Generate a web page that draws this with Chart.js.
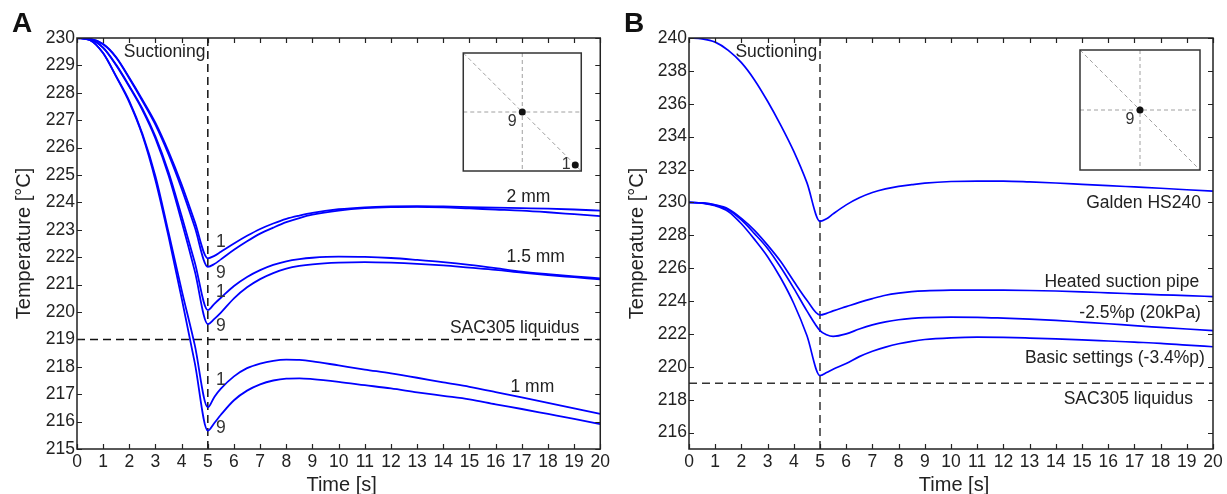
<!DOCTYPE html>
<html>
<head>
<meta charset="utf-8">
<script src="https://cdn.jsdelivr.net/npm/chart.js@4.4.1/dist/chart.umd.min.js"></script>
<style>
  body { margin: 0; background: #fff; }
  #panelA { position: absolute; left: 0; top: 0; }
  #panelB { position: absolute; left: 613px; top: 0; }
</style>
</head>
<body>
<canvas id="panelA" width="613" height="494"></canvas>
<canvas id="panelB" width="614" height="494"></canvas>
<script>
// Time axis shared by all curves [s]
const time = [0, 0.5, 1, 1.5, 2, 2.5, 3, 3.5, 4, 4.5, 5, 5.25, 5.5, 6, 6.5, 7, 7.5, 8, 8.5, 9,
              10, 11, 12, 13, 14, 15, 16, 17, 18, 19, 20];

// Panel A - pad thickness, measuring points 1 (corner) and 9 (centre) [°C]
const a2mm1 = [230, 229.97, 229.78, 229.3, 228.55, 227.75, 226.9, 225.85, 224.65, 223.3, 221.96,
               222.05, 222.2, 222.5, 222.78, 223.03, 223.23, 223.4, 223.52, 223.62,
               223.75, 223.82, 223.85, 223.86, 223.85, 223.83, 223.81, 223.79, 223.77, 223.74, 223.7];
const a2mm9 = [230, 229.97, 229.77, 229.28, 228.52, 227.7, 226.83, 225.75, 224.5, 223.1, 221.65,
               221.75, 221.92, 222.27, 222.58, 222.86, 223.08, 223.28, 223.43, 223.55,
               223.7, 223.79, 223.83, 223.84, 223.82, 223.78, 223.74, 223.7, 223.64, 223.57, 223.5];
const a15mm1 = [230, 229.95, 229.65, 229.02, 228.25, 227.42, 226.4, 225.1, 223.5, 221.82, 220.07,
                220.3, 220.52, 220.95, 221.28, 221.53, 221.72, 221.85, 221.93, 221.98,
                222.02, 222.01, 221.97, 221.9, 221.82, 221.72, 221.6, 221.47, 221.38, 221.3, 221.23];
const a15mm9 = [230, 229.95, 229.64, 229.0, 228.22, 227.37, 226.33, 224.98, 223.3, 221.5, 219.56,
                219.75, 219.98, 220.5, 220.9, 221.2, 221.42, 221.58, 221.68, 221.74,
                221.8, 221.82, 221.8, 221.76, 221.7, 221.62, 221.54, 221.44, 221.35, 221.27, 221.19];
const a1mm1 = [230, 229.92, 229.45, 228.6, 227.7, 226.5, 224.95, 222.9, 220.8, 218.8, 216.52,
               216.9, 217.2, 217.65, 217.95, 218.12, 218.22, 218.26, 218.25, 218.2,
               218.05, 217.9, 217.76, 217.6, 217.43, 217.27, 217.08, 216.88, 216.68, 216.48, 216.28];
const a1mm9 = [230, 229.92, 229.44, 228.58, 227.65, 226.45, 224.8, 222.75, 220.5, 218.15, 215.67,
               215.95, 216.25, 216.78, 217.13, 217.36, 217.5, 217.57, 217.58, 217.55,
               217.45, 217.33, 217.21, 217.07, 216.94, 216.81, 216.63, 216.46, 216.28, 216.1, 215.91];

// Panel B - process variants, centre point 9 [°C]
const bGalden = [240, 239.95, 239.75, 239.25, 238.5, 237.45, 236.15, 234.7, 233.1, 231.2, 228.85,
                 229.0, 229.3, 229.85, 230.28, 230.6, 230.82, 230.98, 231.08, 231.17,
                 231.27, 231.3, 231.3, 231.25, 231.18, 231.1, 231.02, 230.94, 230.86, 230.77, 230.68];
const bHeated = [230, 229.97, 229.85, 229.6, 229.03, 228.3, 227.4, 226.4, 225.2, 224.05, 223.15,
                 223.25, 223.4, 223.66, 223.92, 224.15, 224.35, 224.48, 224.57, 224.62,
                 224.66, 224.67, 224.66, 224.64, 224.61, 224.56, 224.5, 224.44, 224.38, 224.33, 224.27];
const bReduced = [230, 229.97, 229.83, 229.55, 228.93, 228.1, 227.2, 226.05, 224.77, 223.4, 222.2,
                  221.95, 221.85, 222.0, 222.3, 222.55, 222.73, 222.86, 222.94, 222.99,
                  223.02, 223.01, 222.96, 222.9, 222.82, 222.72, 222.62, 222.5, 222.4, 222.3, 222.2];
const bBasic = [230, 229.96, 229.8, 229.45, 228.7, 227.75, 226.7, 225.4, 223.85, 221.9, 219.47,
                219.65, 219.85, 220.2, 220.62, 220.95, 221.2, 221.4, 221.55, 221.66,
                221.76, 221.8, 221.79, 221.75, 221.7, 221.64, 221.57, 221.5, 221.43, 221.32, 221.22];

// Reference lines and axis ranges
const suctionEnd = 5;      // s
const liquidus = 219;      // °C, SAC305
const timeRange = [0, 20];
const rangeA = [215, 230];
const rangeB = [215, 240];

const FONT = "'Liberation Sans', Arial, Helvetica, sans-serif";
const INK = '#222';
const BLUE = '#0000ff';

function xy(values) {
  return time.map((t, i) => ({ x: t, y: values[i] }));
}

function curve(values, width) {
  return {
    data: xy(values), borderColor: BLUE, borderWidth: width,
    pointRadius: 0, fill: false, cubicInterpolationMode: 'monotone'
  };
}

function dashed(points, color) {
  return {
    data: points, borderColor: color, borderWidth: 1.5, borderDash: [8, 5],
    pointRadius: 0, fill: false, tension: 0
  };
}

// frame, inward ticks, texts and the position inset
const extras = {
  id: 'extras',
  afterDraw(chart, args, o) {
    const { ctx, chartArea: a, scales: { x, y } } = chart;
    ctx.save();

    // inset sketch of the measuring points
    const s = o.inset;
    const bx = a.right - s.dx - s.size, by = a.top + s.dy, bw = s.size, bh = s.size;
    ctx.fillStyle = '#fff';
    ctx.fillRect(bx, by, bw, bh);
    ctx.setLineDash([4, 3]);
    ctx.strokeStyle = '#a0a0a0';
    ctx.lineWidth = 1;
    ctx.beginPath();
    ctx.moveTo(bx, by); ctx.lineTo(bx + bw, by + bh);
    ctx.moveTo(bx + bw / 2, by); ctx.lineTo(bx + bw / 2, by + bh);
    ctx.moveTo(bx, by + bh / 2); ctx.lineTo(bx + bw, by + bh / 2);
    ctx.stroke();
    ctx.setLineDash([]);
    ctx.strokeStyle = '#333';
    ctx.lineWidth = 1.5;
    ctx.strokeRect(bx, by, bw, bh);
    ctx.fillStyle = '#111';
    ctx.beginPath();
    ctx.arc(bx + bw / 2, by + bh / 2, 3.5, 0, Math.PI * 2);
    ctx.fill();
    ctx.font = '16px ' + FONT;
    ctx.textAlign = 'center';
    ctx.textBaseline = 'middle';
    ctx.fillStyle = '#333';
    ctx.fillText('9', bx + bw / 2 - 10, by + bh / 2 + 10);
    if (s.corner) {
      ctx.fillStyle = '#111';
      ctx.beginPath();
      ctx.arc(bx + bw - 6, by + bh - 6, 3.5, 0, Math.PI * 2);
      ctx.fill();
      ctx.fillStyle = '#333';
      ctx.fillText('1', bx + bw - 15, by + bh - 6);
    }

    // inward tick marks on all four sides
    ctx.strokeStyle = INK;
    ctx.lineWidth = 1.2;
    ctx.beginPath();
    x.ticks.forEach(t => {
      const px = Math.round(x.getPixelForValue(t.value)) + 0.5;
      ctx.moveTo(px, a.bottom); ctx.lineTo(px, a.bottom - 5);
      ctx.moveTo(px, a.top); ctx.lineTo(px, a.top + 5);
    });
    y.ticks.forEach(t => {
      const py = Math.round(y.getPixelForValue(t.value)) + 0.5;
      ctx.moveTo(a.left, py); ctx.lineTo(a.left + 5, py);
      ctx.moveTo(a.right, py); ctx.lineTo(a.right - 5, py);
    });
    ctx.stroke();
    ctx.lineWidth = 1.5;
    ctx.strokeRect(a.left, a.top, a.width, a.height);

    // in-plot annotations
    ctx.fillStyle = INK;
    ctx.textBaseline = 'middle';
    o.notes.forEach(n => {
      ctx.font = (n.size || 17.5) + 'px ' + FONT;
      ctx.fillStyle = n.color || INK;
      ctx.textAlign = n.align;
      ctx.fillText(n.text, x.getPixelForValue(n.x), y.getPixelForValue(n.y));
    });

    // panel letter
    ctx.fillStyle = '#111';
    ctx.font = 'bold 28px ' + FONT;
    ctx.textAlign = 'left';
    ctx.textBaseline = 'alphabetic';
    ctx.fillText(o.letter, o.letterX, 32);

    // axis titles
    ctx.fillStyle = INK;
    ctx.font = '20px ' + FONT;
    ctx.textAlign = 'center';
    ctx.textBaseline = 'middle';
    ctx.fillText('Time [s]', (a.left + a.right) / 2 + 3, 485);
    ctx.translate(o.titleX, (a.top + a.bottom) / 2);
    ctx.rotate(-Math.PI / 2);
    ctx.fillText('Temperature [°C]', 0, 0);

    ctx.restore();
  }
};

function scales(yRange, yStep, yWidth) {
  const tickFont = { family: FONT, size: 17.5 };
  return {
    x: {
      type: 'linear', min: timeRange[0], max: timeRange[1],
      grid: { display: false, drawTicks: false }, border: { display: false },
      ticks: { stepSize: 1, autoSkip: false, maxRotation: 0, padding: 3, color: INK, font: tickFont },
      afterFit(s) { s.height = 45; }
    },
    y: {
      min: yRange[0], max: yRange[1],
      grid: { display: false, drawTicks: false }, border: { display: false },
      ticks: { stepSize: yStep, includeBounds: false, padding: 2, color: INK, font: tickFont },
      afterFit(s) { s.width = yWidth; }
    }
  };
}

new Chart(document.getElementById('panelA'), {
  type: 'line',
  data: {
    datasets: [
      curve(a2mm1, 1.8), curve(a2mm9, 1.8),
      curve(a15mm1, 1.8), curve(a15mm9, 1.8),
      curve(a1mm1, 1.8), curve(a1mm9, 1.8),
      dashed([{ x: suctionEnd, y: rangeA[0] }, { x: suctionEnd, y: rangeA[1] }], '#111'),
      dashed([{ x: timeRange[0], y: liquidus }, { x: timeRange[1], y: liquidus }], '#111')
    ]
  },
  options: {
    responsive: false,
    animation: false,
    layout: { padding: { left: 0, right: 11, top: 38, bottom: 0 } },
    scales: scales(rangeA, 1, 77),
    plugins: {
      legend: { display: false },
      tooltip: { enabled: false },
      extras: {
        letter: 'A', letterX: 12, titleX: 24,
        inset: { dx: 19, dy: 15, size: 118, corner: true },
        notes: [
          { text: 'Suctioning', x: 4.91, y: 229.5, align: 'right' },
          { text: '2 mm', x: 16.42, y: 224.2, align: 'left' },
          { text: '1.5 mm', x: 16.42, y: 222.0, align: 'left' },
          { text: 'SAC305 liquidus', x: 19.2, y: 219.42, align: 'right' },
          { text: '1 mm', x: 16.57, y: 217.26, align: 'left' },
          { text: '1', x: 5.5, y: 222.55, align: 'center', color: '#333' },
          { text: '9', x: 5.5, y: 221.42, align: 'center', color: '#333' },
          { text: '1', x: 5.5, y: 220.73, align: 'center', color: '#333' },
          { text: '9', x: 5.5, y: 219.47, align: 'center', color: '#333' },
          { text: '1', x: 5.5, y: 217.52, align: 'center', color: '#333' },
          { text: '9', x: 5.5, y: 215.77, align: 'center', color: '#333' }
        ]
      }
    }
  },
  plugins: [extras]
});

new Chart(document.getElementById('panelB'), {
  type: 'line',
  data: {
    datasets: [
      curve(bGalden, 1.7), curve(bHeated, 1.7),
      curve(bReduced, 1.7), curve(bBasic, 1.7),
      dashed([{ x: suctionEnd, y: rangeB[0] }, { x: suctionEnd, y: rangeB[1] }], '#333'),
      dashed([{ x: timeRange[0], y: liquidus }, { x: timeRange[1], y: liquidus }], '#333')
    ]
  },
  options: {
    responsive: false,
    animation: false,
    layout: { padding: { left: 0, right: 14, top: 38, bottom: 0 } },
    scales: scales(rangeB, 2, 76),
    plugins: {
      legend: { display: false },
      tooltip: { enabled: false },
      extras: {
        letter: 'B', letterX: 11, titleX: 24,
        inset: { dx: 13, dy: 12, size: 120, corner: false },
        notes: [
          { text: 'Suctioning', x: 4.89, y: 239.15, align: 'right' },
          { text: 'Galden HS240', x: 19.54, y: 229.96, align: 'right' },
          { text: 'Heated suction pipe', x: 19.47, y: 225.16, align: 'right' },
          { text: '-2.5%p (20kPa)', x: 19.54, y: 223.27, align: 'right' },
          { text: 'Basic settings (-3.4%p)', x: 19.69, y: 220.54, align: 'right' },
          { text: 'SAC305 liquidus', x: 19.24, y: 218.04, align: 'right' }
        ]
      }
    }
  },
  plugins: [extras]
});
</script>
</body>
</html>
